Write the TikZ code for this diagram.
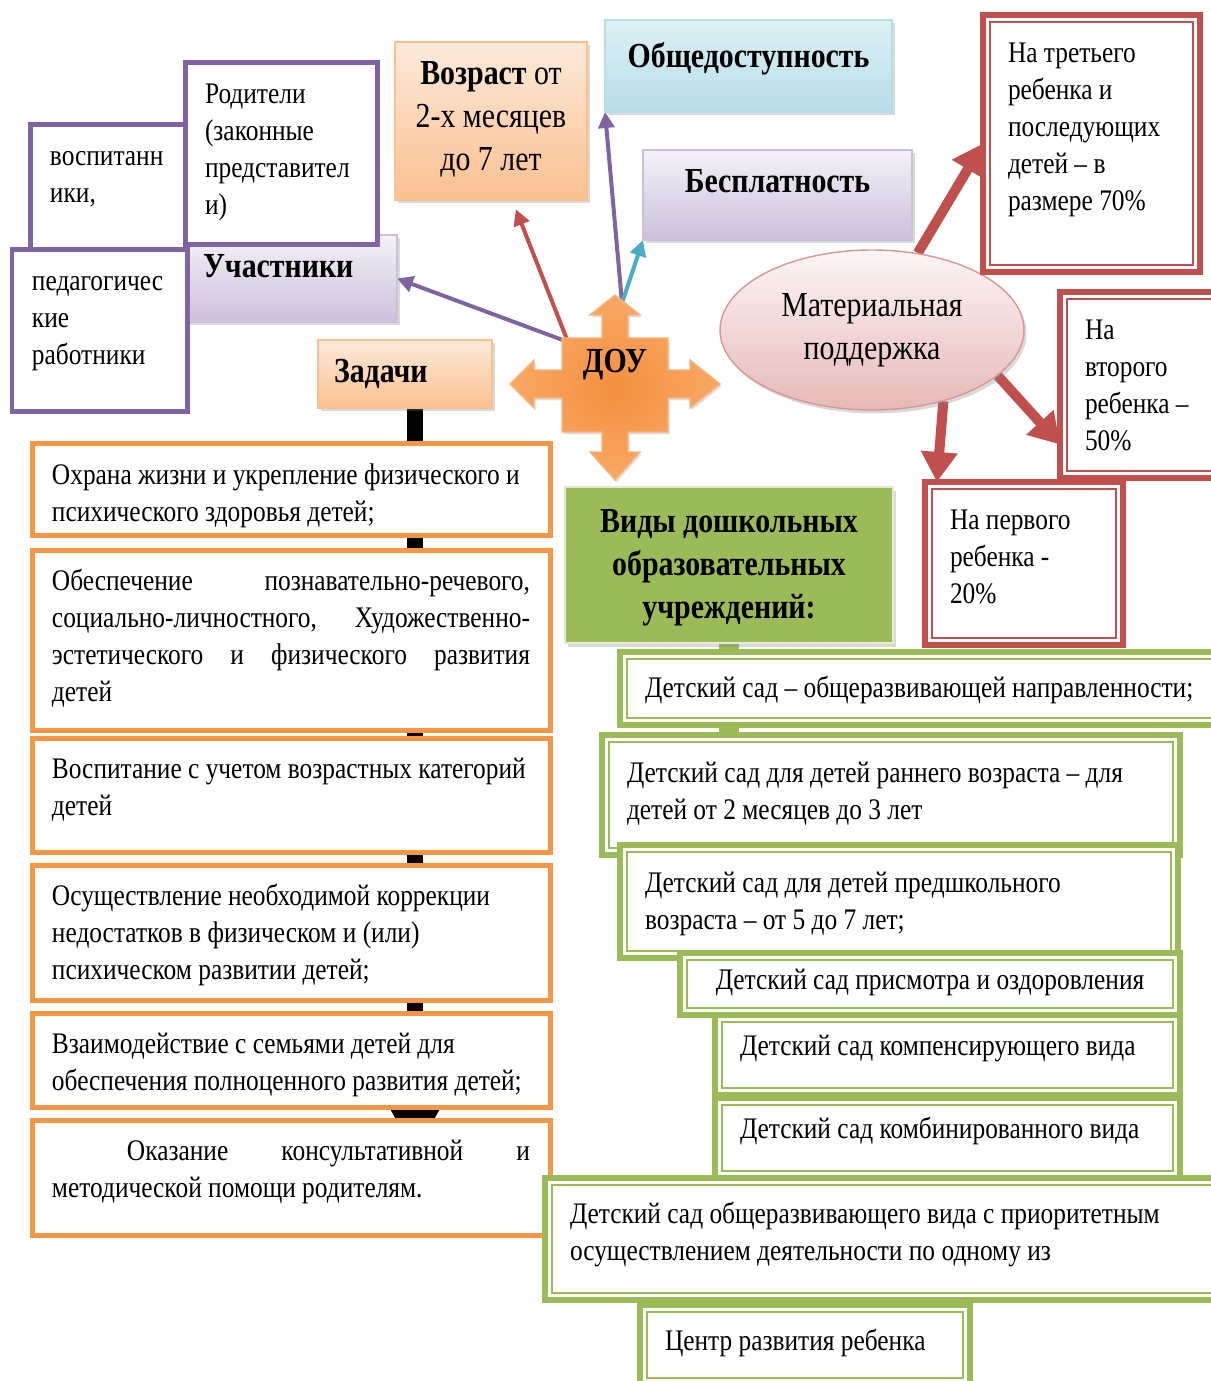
\documentclass[tikz,border=0pt]{standalone}
\usepackage{fontspec}
\setmainfont{Liberation Serif}[FakeStretch=0.85]
\usetikzlibrary{arrows.meta,calc,shapes.geometric,shadows,backgrounds}

\definecolor{purp}{HTML}{8064A2}
\definecolor{orng}{HTML}{F79646}
\definecolor{redc}{HTML}{C0504D}
\definecolor{grn}{HTML}{9BBB59}
\definecolor{cyanc}{HTML}{4BACC6}
\definecolor{lavtop}{HTML}{F4F1F8}
\definecolor{lavbot}{HTML}{CCC0DA}
\definecolor{peachtop}{HTML}{FDEADA}
\definecolor{peachbot}{HTML}{FAC090}
\definecolor{bluetop}{HTML}{DDF0F5}
\definecolor{bluebot}{HTML}{B7DEE8}
\definecolor{pinktop}{HTML}{FDF5F5}
\definecolor{pinkbot}{HTML}{E6B9B8}
\definecolor{pinkdraw}{HTML}{D99694}
\definecolor{viddraw}{HTML}{E3EBD3}
\definecolor{douin}{HTML}{F4903F}
\definecolor{douout}{HTML}{F8A865}
\definecolor{douline}{HTML}{F9B47E}

\newlength\pxu \setlength\pxu{0.02cm}
\newlength\padx \newlength\pady
\newcommand{\normtxt}{\fontsize{17}{21}\selectfont}
\newcommand{\bigtxt}{\fontsize{20}{24.5}\selectfont}
% box text: width and height in px, text at the top
\newcommand{\boxtxt}[3]{\parbox[c][\dimexpr#2\pxu-2\pady\relax][t]{\dimexpr#1\pxu-2\padx\relax}{\begin{tabular}[t]{@{}l@{}}#3\end{tabular}}}
\newcommand{\boxctr}[3]{\parbox[c][\dimexpr#2\pxu-2\pady\relax][t]{\dimexpr#1\pxu-2\padx\relax}{\centering\begin{tabular}[t]{@{}c@{}}#3\end{tabular}}}
\newcommand{\boxjust}[3]{\parbox[c][\dimexpr#2\pxu-2\pady\relax][t]{\dimexpr#1\pxu-2\padx\relax}{\tolerance=10000\hbadness=10000\strut#3}}

\tikzset{
  pads/.code 2 args={\setlength\padx{#1}\setlength\pady{#2}\pgfkeysalso{inner xsep=#1,inner ysep=#2}},
  rbox/.style={anchor=north west, outer sep=0pt, font=\normtxt},
  linebox/.style={rbox, draw=#1, line width=0.1cm, fill=white, pads={0.4cm}{0.3cm}},
  dblbox/.style={rbox, draw=#1, line width=0.13cm, fill=white, pads={0.5cm}{0.44cm},
    path picture={\draw[#1, line width=0.8pt]
      ($(path picture bounding box.north west)+(7,7)$) rectangle ($(path picture bounding box.south east)+(-7,-7)$);}},
  gradbox/.style 2 args={rbox, font=\bigtxt, top color=#1, bottom color=#2, draw=#2, line width=0.6pt,
    pads={0.32cm}{0.24cm}, drop shadow={shadow xshift=0.05cm, shadow yshift=-0.07cm, opacity=0.3}},
  matell/.style={ellipse, draw=pinkdraw, line width=0.8pt, top color=pinktop, bottom color=pinkbot,
    minimum width=6.08cm, minimum height=3.2cm, inner sep=0pt, font=\bigtxt, align=center,
    drop shadow={shadow xshift=0.05cm, shadow yshift=-0.07cm, opacity=0.3}},
  purparrow/.style={purp, line width=0.08cm, -{Triangle[width=0.32cm,length=0.32cm]}},
  redarrow/.style={redc, line width=0.08cm, -{Triangle[width=0.32cm,length=0.32cm]}, shorten >=0.2cm},
  cyanarrow/.style={cyanc, line width=0.08cm, -{Triangle[width=0.32cm,length=0.32cm]}},
  bigarrow/.style={redc, line width=0.2cm, -{Triangle[width=0.7cm,length=0.6cm]}},
  blackline/.style={black, line width=0.32cm, -{Triangle[width=0.96cm,length=0.96cm]}},
  greenline/.style={grn, line width=0.4cm}
}

\begin{document}
\begin{tikzpicture}[x=0.02cm, y=-0.02cm]
\useasboundingbox (0,0) rectangle (1210,1381);

% participants
\node[gradbox={lavtop}{lavbot}] (uch) at (187,235) {\boxtxt{210}{87}{\textbf{Участники}}};
\node[linebox=purp] (vosp) at (30,125) {\boxtxt{155}{125}{воспитанн\\ики,}};
\node[linebox=purp] (rod) at (185,63) {\boxtxt{192}{182}{Родители\\(законные\\представител\\и)}};
\node[linebox=purp] (ped) at (12,250) {\boxtxt{175}{162}{педагогичес\\кие\\работники}};

% principles
\node[gradbox={peachtop}{peachbot}] (vozr) at (395,42) {\boxctr{192}{158}{\textbf{Возраст} от\\2-х месяцев\\до 7 лет}};
\node[gradbox={bluetop}{bluebot}, pads={0.32cm}{0.34cm}] (obsh) at (605,20) {\boxctr{287}{92}{\textbf{Общедоступность}}};
\node[gradbox={lavtop}{lavbot}] (besp) at (643,150) {\boxctr{269}{90}{\textbf{Бесплатность}}};
\node[gradbox={peachtop}{peachbot}] (zad) at (318,340) {\boxtxt{174}{68}{\textbf{Задачи}}};

% DOU
\draw[draw=douline, line width=0.8pt, inner color=douin, outer color=douout,
  drop shadow={shadow xshift=0.03cm, shadow yshift=-0.05cm, opacity=0.25}]
  (615,295) -- (640,315) -- (628,315) -- (628,338) -- (668,338) -- (668,370) -- (690,370)
  -- (690,360) -- (720,384) -- (690,408) -- (690,398) -- (668,398) -- (668,432) -- (628,432)
  -- (628,452) -- (640,452) -- (615,480) -- (590,452) -- (602,452) -- (602,432) -- (562,432)
  -- (562,398) -- (534,398) -- (534,408) -- (510,384) -- (534,360) -- (534,370) -- (562,370)
  -- (562,338) -- (602,338) -- (602,315) -- (590,315) -- cycle;
\node[font=\bigtxt\bfseries] (dou) at (615,365) {ДОУ};
\coordinate (douNW) at (568,342);
\coordinate (douN) at (622,303);

% material support
\node[matell] (mat) at (872,330) {Материальная\\поддержка};
\node[dblbox=redc] (third) at (983,15) {\boxtxt{217}{257}{На третьего\\ребенка и\\последующих\\детей – в\\размере 70\%}};
\node[dblbox=redc] (second) at (1060,292) {\boxtxt{160}{186}{На\\второго\\ребенка –\\50\%}};
\node[dblbox=redc] (first) at (925,482) {\boxtxt{198}{163}{На первого\\ребенка -\\20\%}};

% tasks
\node[linebox=orng] (z1) at (32,444) {\boxtxt{518}{91}{Охрана жизни и укрепление физического и\\психического здоровья детей;}};
\node[linebox=orng] (z2) at (32,550) {\boxjust{518}{180}{Обеспечение познавательно-речевого,\linebreak социально-личностного, Художественно-\linebreak эстетического и физического развития\linebreak детей}};
\node[linebox=orng] (z3) at (32,738) {\boxtxt{518}{114}{Воспитание с учетом возрастных категорий\\детей}};
\node[linebox=orng] (z4) at (32,865) {\boxtxt{518}{135}{Осуществление необходимой коррекции\\недостатков в физическом и (или)\\психическом развитии детей;}};
\node[linebox=orng] (z5) at (32,1013) {\boxtxt{518}{94}{Взаимодействие с семьями детей для\\обеспечения полноценного развития детей;}};
\node[linebox=orng] (z6) at (32,1120) {\boxjust{518}{115}{\hspace*{1.5cm}Оказание консультативной и\linebreak методической помощи родителям.}};

% kinds
\node[rbox, font=\bigtxt\bfseries, fill=grn, draw=viddraw, line width=1pt, pads={0.3cm}{0.3cm},
  drop shadow={shadow xshift=0.05cm, shadow yshift=-0.07cm, opacity=0.3}] (vid) at (565,487)
  {\boxctr{328}{156}{Виды дошкольных\\образовательных\\учреждений:}};
\node[dblbox=grn, pads={0.5cm}{0.4cm}] (g1) at (620,652) {\boxtxt{600}{73}{Детский сад – общеразвивающей направленности;}};
\node[dblbox=grn] (g2) at (602,735) {\boxtxt{578}{120}{Детский сад для детей раннего возраста – для\\детей от 2 месяцев до 3 лет}};
\node[dblbox=grn] (g3) at (620,845) {\boxtxt{558}{113}{Детский сад для детей предшкольного\\возраста – от 5 до 7 лет;}};
\node[dblbox=grn, pads={0.5cm}{0.22cm}] (g4) at (680,953) {\boxctr{500}{62}{Детский сад присмотра и оздоровления}};
\node[dblbox=grn, pads={0.5cm}{0.3cm}] (g5) at (715,1015) {\boxtxt{465}{80}{Детский сад компенсирующего вида}};
\node[dblbox=grn, pads={0.5cm}{0.3cm}] (g6) at (715,1098) {\boxtxt{465}{80}{Детский сад комбинированного вида}};
\node[dblbox=grn, pads={0.5cm}{0.4cm}] (g7) at (545,1178) {\boxtxt{675}{122}{Детский сад общеразвивающего вида с приоритетным\\осуществлением деятельности по одному из}};
\node[dblbox=grn, pads={0.5cm}{0.4cm}] (centr) at (640,1305) {\boxtxt{330}{80}{Центр развития ребенка}};

% connectors
\coordinate (zs) at ($(zad.south)+(10,0)$);
\begin{scope}[on background layer]
  \draw[blackline] (zs) -- ($(zs |- z6.north)+(0,35)$);
  \draw[greenline] (vid.south) -- (vid.south |- centr.north);
  \draw[purparrow] (douNW) -- (uch.east);
  \draw[redarrow] (douNW) -- (vozr.-75);
  \draw[purparrow] (douN) -- (obsh.south west);
  \draw[cyanarrow] (douN) -- (besp.south west);
  \draw[bigarrow] (mat) -- (third.west);
  \draw[bigarrow] (mat.-20) -- ($(second.south west)!0.18!(second.north west)$);
  \draw[bigarrow] (mat.-45) -- ($(first.north west)!0.06!(first.north east)$);
\end{scope}
\end{tikzpicture}
\end{document}
